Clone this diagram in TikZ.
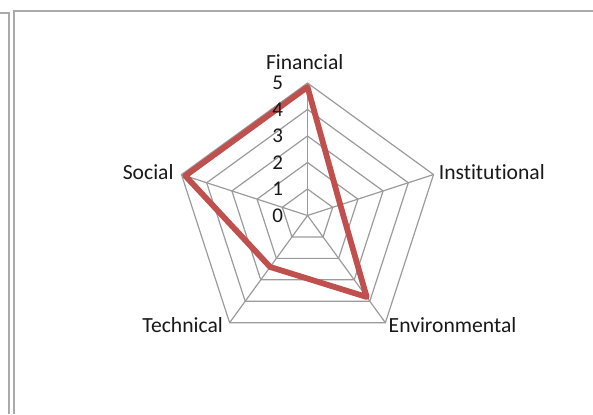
\documentclass[tikz,border=0pt]{standalone}
\usepackage{fontspec}
\setmainfont{Carlito}[Ligatures=NoCommon]
\usepackage{tikz}
\definecolor{seriesRed}{RGB}{192, 80, 77}
\definecolor{gridGray}{RGB}{155, 155, 155}
\definecolor{frameGray}{RGB}{170, 170, 170}

\begin{document}
\begin{tikzpicture}[
    x=13.25pt, y=13.25pt,
    gridline/.style={draw=gridGray, line width=0.6pt},
    axislabel/.style={inner sep=0pt, font=\fontsize{10.8}{12}\selectfont, text=black!90},
    ticklabel/.style={inner sep=0pt, anchor=east, font=\fontsize{10.5}{12}\selectfont, text=black!90}
]
    \useasboundingbox (-153.75pt,-99.25pt) rectangle (142.75pt,107.75pt);

    % frame of the chart area
    \draw[frameGray, line width=1pt] (-153.75pt,101.1pt) -- (-149.25pt,101.1pt) -- (-149.25pt,-99.25pt);
    \draw[frameGray, line width=1pt] (-146.6pt,-99.25pt) -- (-146.6pt,102.1pt) -- (142.75pt,102.1pt);

    % rings and spokes
    \foreach \r in {1,...,5} {
        \draw[gridline] (90:\r) -- (18:\r) -- (-54:\r) -- (-126:\r) -- (162:\r) -- cycle;
    }
    \foreach \a in {90,18,-54,-126,162} {
        \draw[gridline] (0,0) -- (\a:5);
    }

    % data series
    \draw[seriesRed, line width=2.9pt, line join=round]
        (90:4.85) -- (18:1.3) -- (-54:3.8) -- (-126:2.4) -- (162:4.85) -- cycle;

    % scale
    \foreach \v in {0,...,5} {
        \node[ticklabel] (tick\v) at (-0.913,\v) {\v};
    }

    % axis names
    \node[axislabel, anchor=base] (financial) at (-0.106,5.517) {Financial};
    \node[axislabel, anchor=base west] (institutional) at (4.94,1.34) {Institutional};
    \node[axislabel, anchor=base west] (environmental) at (3.05,-4.42) {Environmental};
    \node[axislabel, anchor=base east] (technical) at (-3.18,-4.42) {Technical};
    \node[axislabel, anchor=base east] (social) at (-5.04,1.34) {Social};
\end{tikzpicture}
\end{document}
